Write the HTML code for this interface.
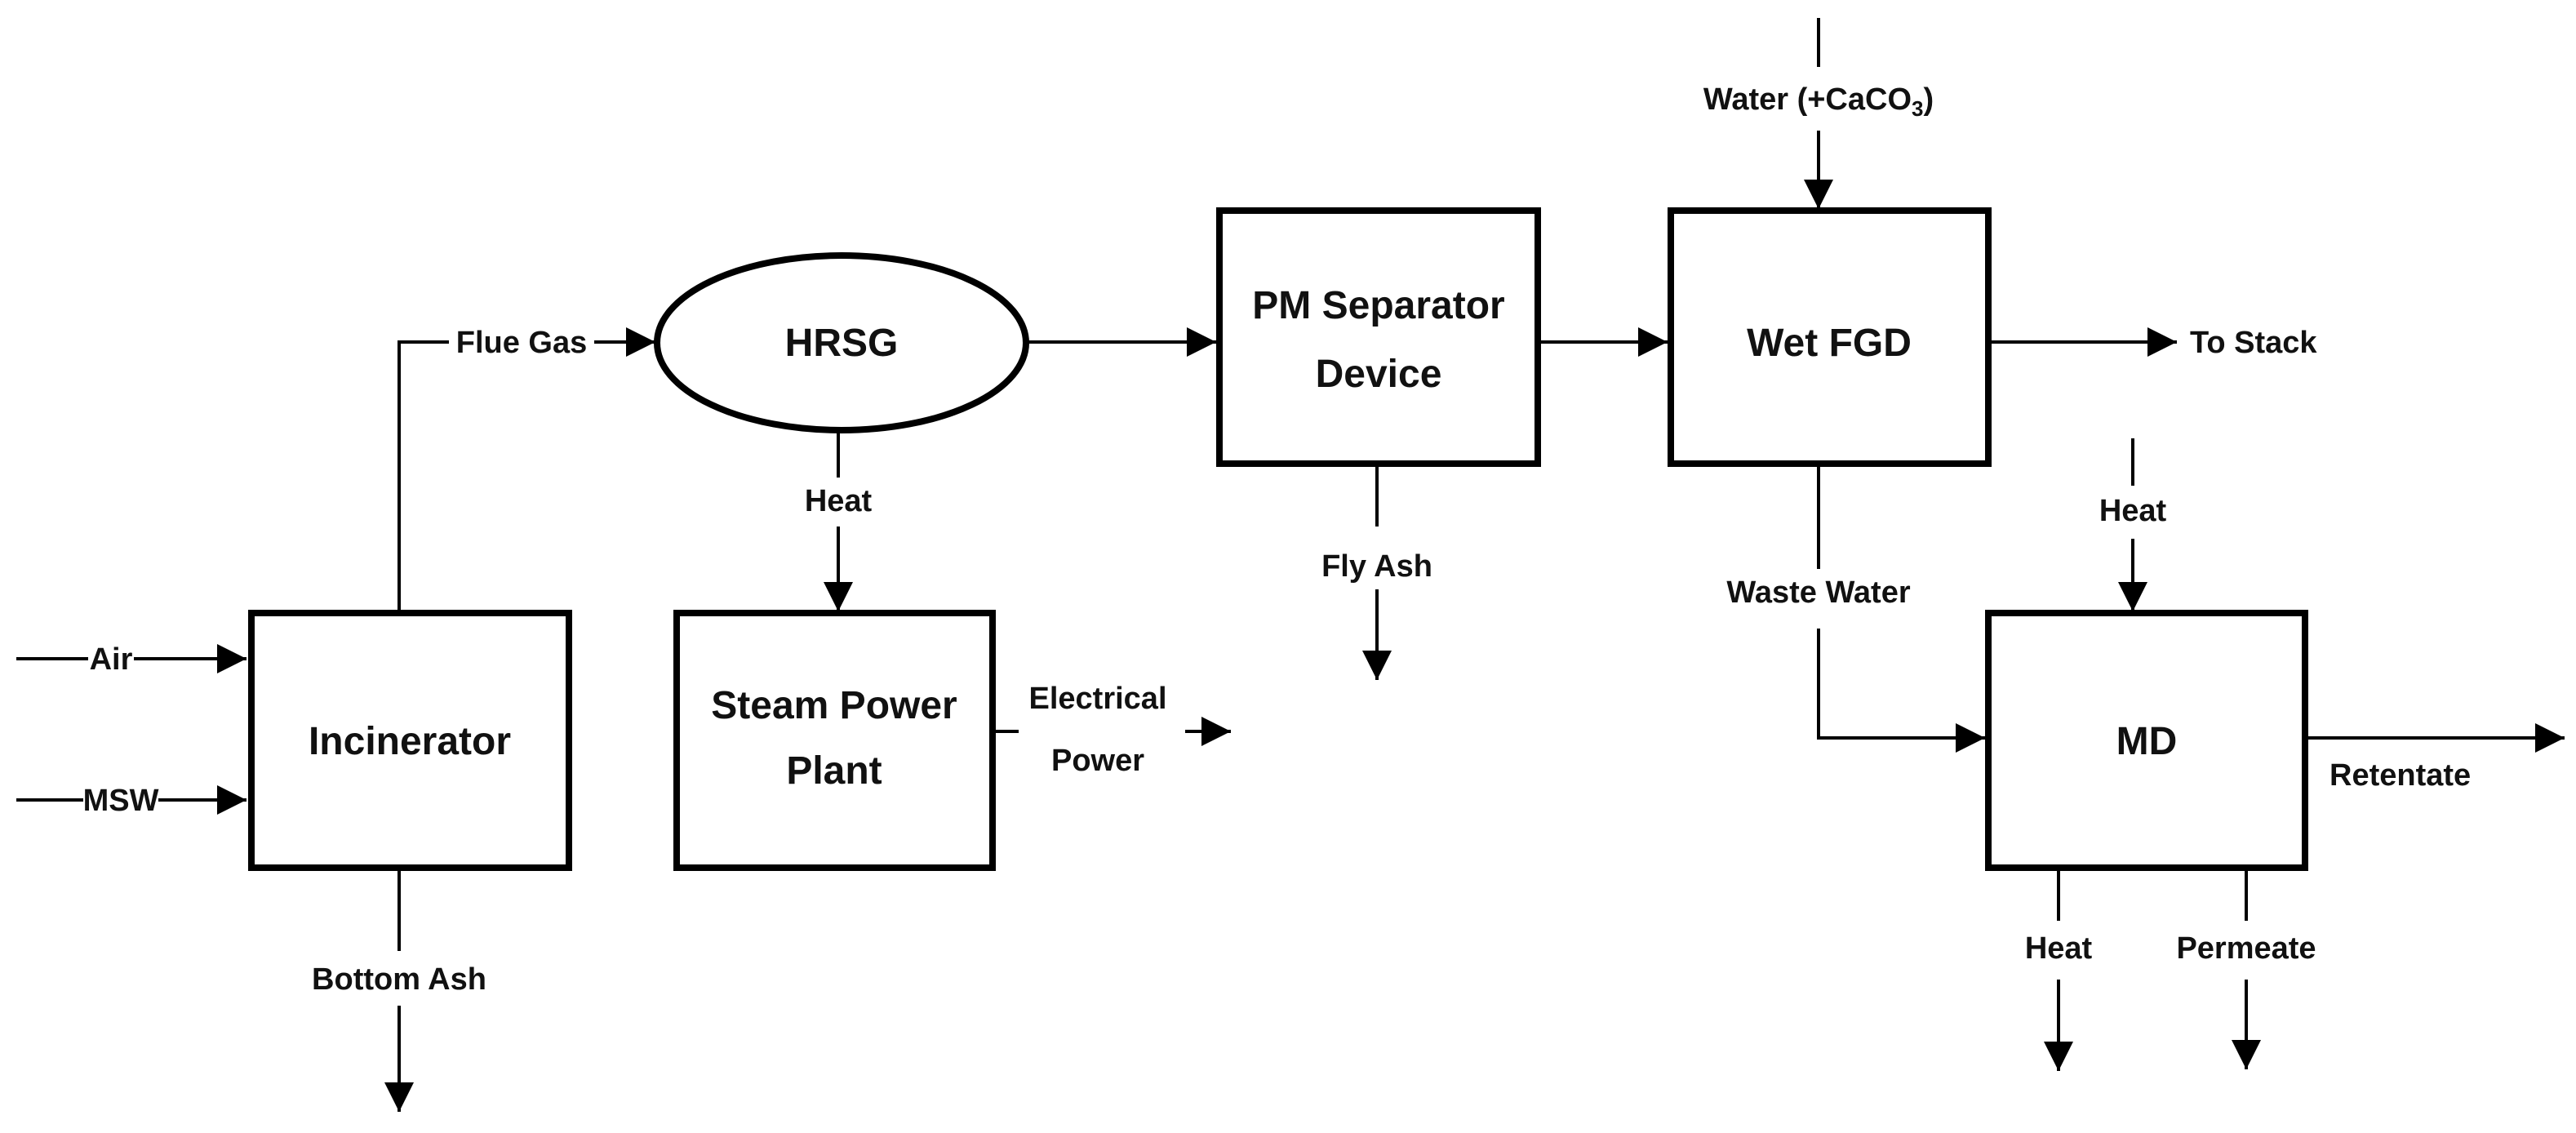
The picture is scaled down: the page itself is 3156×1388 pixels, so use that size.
<!DOCTYPE html>
<html><head><meta charset="utf-8"><style>
html,body{margin:0;padding:0;background:#fff;}
svg{display:block;}
text{font-family:"Liberation Sans Narrow","Liberation Sans",sans-serif;font-weight:bold;fill:#111;}
.l{font-size:38px;}
.b{font-size:48px;}
</style></head><body>
<svg width="3156" height="1388" viewBox="0 0 3156 1388" xmlns="http://www.w3.org/2000/svg">
<defs>
<marker id="a" viewBox="0 0 10 10" refX="10" refY="5" markerWidth="9" markerHeight="9" markerUnits="strokeWidth" orient="auto">
<path d="M0,0 L10,5 L0,10 z" fill="#000"/></marker>
</defs>
<g stroke="#000" stroke-width="4" fill="none">
<rect x="308" y="751" width="389" height="312" stroke-width="8"/>
<rect x="829" y="751" width="387" height="312" stroke-width="8"/>
<rect x="1494" y="258" width="390" height="310" stroke-width="8"/>
<rect x="2047" y="258" width="389" height="310" stroke-width="8"/>
<rect x="2436" y="751" width="388" height="312" stroke-width="8"/>
<ellipse cx="1031" cy="420" rx="226" ry="107" stroke-width="8"/>
<line x1="20" y1="807" x2="108" y2="807"/>
<line x1="164" y1="807" x2="302" y2="807" marker-end="url(#a)"/>
<line x1="20" y1="980" x2="102" y2="980"/>
<line x1="194" y1="980" x2="302" y2="980" marker-end="url(#a)"/>
<polyline points="489,751 489,419 550,419"/>
<line x1="728" y1="419" x2="803" y2="419" marker-end="url(#a)"/>
<line x1="489" y1="1063" x2="489" y2="1165"/>
<line x1="489" y1="1232" x2="489" y2="1362" marker-end="url(#a)"/>
<line x1="1027" y1="527" x2="1027" y2="585"/>
<line x1="1027" y1="645" x2="1027" y2="749" marker-end="url(#a)"/>
<line x1="1216" y1="896" x2="1248" y2="896"/>
<line x1="1452" y1="896" x2="1508" y2="896" marker-end="url(#a)"/>
<line x1="1257" y1="419" x2="1490" y2="419" marker-end="url(#a)"/>
<line x1="1687" y1="568" x2="1687" y2="645"/>
<line x1="1687" y1="722" x2="1687" y2="833" marker-end="url(#a)"/>
<line x1="1884" y1="419" x2="2043" y2="419" marker-end="url(#a)"/>
<line x1="2228" y1="22" x2="2228" y2="82"/>
<line x1="2228" y1="160" x2="2228" y2="256" marker-end="url(#a)"/>
<line x1="2436" y1="419" x2="2667" y2="419" marker-end="url(#a)"/>
<line x1="2228" y1="568" x2="2228" y2="697"/>
<polyline points="2228,770 2228,904 2432,904" marker-end="url(#a)"/>
<line x1="2613" y1="537" x2="2613" y2="595"/>
<line x1="2613" y1="660" x2="2613" y2="749" marker-end="url(#a)"/>
<line x1="2824" y1="904" x2="3142" y2="904" marker-end="url(#a)"/>
<line x1="2522" y1="1063" x2="2522" y2="1128"/>
<line x1="2522" y1="1200" x2="2522" y2="1312" marker-end="url(#a)"/>
<line x1="2752" y1="1063" x2="2752" y2="1128"/>
<line x1="2752" y1="1200" x2="2752" y2="1310" marker-end="url(#a)"/>
</g>
<g text-anchor="middle">
<text class="b" x="502" y="924">Incinerator</text>
<text class="b" x="1022" y="880">Steam Power</text>
<text class="b" x="1022" y="960">Plant</text>
<text class="b" x="1031" y="436">HRSG</text>
<text class="b" x="1689" y="390">PM Separator</text>
<text class="b" x="1689" y="474">Device</text>
<text class="b" x="2241" y="436">Wet FGD</text>
<text class="b" x="2630" y="924">MD</text>
<text class="l" x="136" y="820">Air</text>
<text class="l" x="148" y="993">MSW</text>
<text class="l" x="639" y="432">Flue Gas</text>
<text class="l" x="489" y="1212">Bottom Ash</text>
<text class="l" x="1027" y="626">Heat</text>
<text class="l" x="1345" y="868">Electrical</text>
<text class="l" x="1345" y="944">Power</text>
<text class="l" x="1687" y="706">Fly Ash</text>
<text class="l" x="2228" y="134">Water (+CaCO<tspan font-size="26" dy="8">3</tspan><tspan dy="-8">)</tspan></text>
<text class="l" x="2228" y="738">Waste Water</text>
<text class="l" x="2613" y="638">Heat</text>
<text class="l" x="2522" y="1174">Heat</text>
<text class="l" x="2752" y="1174">Permeate</text>
</g>
<text class="l" x="2683" y="432">To Stack</text>
<text class="l" x="2854" y="962">Retentate</text>
</svg>
</body></html>
